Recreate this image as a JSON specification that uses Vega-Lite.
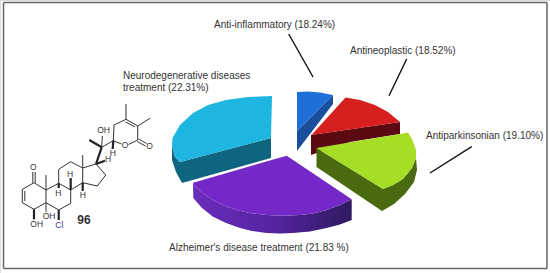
{"$schema":"https://vega.github.io/schema/vega-lite/v6.json","width":550,"height":273,"padding":0,"autosize":"none","background":"white",
"datasets":{
"faces":[
{"part":"blueSide","x":333,"y":95},{"part":"blueSide","x":297,"y":131},{"part":"blueSide","x":297,"y":151},{"part":"blueSide","x":333,"y":104},
{"part":"blueTop","x":297,"y":92},{"part":"blueTop","x":308,"y":91.5},{"part":"blueTop","x":320,"y":92.5},{"part":"blueTop","x":333,"y":95},{"part":"blueTop","x":297,"y":131},
{"part":"redSide","x":311,"y":135},{"part":"redSide","x":400,"y":122},{"part":"redSide","x":400,"y":134},{"part":"redSide","x":350,"y":142},{"part":"redSide","x":311,"y":155},
{"part":"redTop","x":311.5,"y":135},{"part":"redTop","x":345.5,"y":97.5},{"part":"redTop","x":360,"y":100},{"part":"redTop","x":375,"y":105},{"part":"redTop","x":388,"y":112},{"part":"redTop","x":400,"y":122},
{"part":"greenSide","x":316.5,"y":148},{"part":"greenSide","x":383,"y":189},{"part":"greenSide","x":393,"y":185},{"part":"greenSide","x":403,"y":179},{"part":"greenSide","x":412,"y":168},{"part":"greenSide","x":416,"y":158},{"part":"greenSide","x":417,"y":170},{"part":"greenSide","x":414,"y":182},{"part":"greenSide","x":405,"y":194},{"part":"greenSide","x":394,"y":204},{"part":"greenSide","x":382,"y":211},{"part":"greenSide","x":316.5,"y":167},
{"part":"greenTop","x":316.5,"y":148},{"part":"greenTop","x":400,"y":134},{"part":"greenTop","x":408,"y":132.5},{"part":"greenTop","x":412,"y":139},{"part":"greenTop","x":416,"y":150},{"part":"greenTop","x":416,"y":158},{"part":"greenTop","x":412,"y":168},{"part":"greenTop","x":403,"y":179},{"part":"greenTop","x":393,"y":185},{"part":"greenTop","x":383,"y":189},
{"part":"cyanSide","x":180,"y":162},{"part":"cyanSide","x":271,"y":138},{"part":"cyanSide","x":271,"y":158},{"part":"cyanSide","x":182,"y":183},{"part":"cyanSide","x":176,"y":172},{"part":"cyanSide","x":172,"y":160},{"part":"cyanSide","x":172,"y":146},{"part":"cyanSide","x":175,"y":157},
{"part":"cyanTop","x":272,"y":96},{"part":"cyanTop","x":271,"y":138},{"part":"cyanTop","x":180,"y":162},{"part":"cyanTop","x":175,"y":157},{"part":"cyanTop","x":172,"y":146},{"part":"cyanTop","x":172.5,"y":138},{"part":"cyanTop","x":180,"y":125},{"part":"cyanTop","x":193,"y":113},{"part":"cyanTop","x":208,"y":105},{"part":"cyanTop","x":226,"y":100},{"part":"cyanTop","x":248,"y":97}
],
"alzSide":[{"x":193,"y":182.7},{"x":195,"y":186},{"x":203,"y":193.5},{"x":213,"y":200},{"x":224,"y":205.5},{"x":236.7,"y":210},{"x":250,"y":213},{"x":266.7,"y":215},{"x":283,"y":215.8},{"x":300,"y":215},{"x":313,"y":213.5},{"x":326.7,"y":210},{"x":340,"y":205},{"x":351.7,"y":199.3},{"x":351.7,"y":220},{"x":340,"y":224.5},{"x":326.7,"y":228},{"x":310,"y":231.5},{"x":293,"y":233},{"x":280,"y":233.5},{"x":266.7,"y":233},{"x":252,"y":231},{"x":240,"y":228},{"x":226,"y":223},{"x":213,"y":216.7},{"x":202,"y":208},{"x":193.3,"y":198}],
"alzTop":[{"x":286.7,"y":155.7},{"x":351.7,"y":199.3},{"x":340,"y":205},{"x":326.7,"y":210},{"x":313,"y":213.5},{"x":300,"y":215},{"x":283,"y":215.8},{"x":266.7,"y":215},{"x":250,"y":213},{"x":236.7,"y":210},{"x":224,"y":205.5},{"x":213,"y":200},{"x":203,"y":193.5},{"x":195,"y":186},{"x":193,"y":182.7}],
"frame":[{"x":3.5,"y":2.5,"x2":547,"y2":2.5},{"x":547,"y":2.5,"x2":547,"y2":268.5},{"x":547,"y":268.5,"x2":3.5,"y2":268.5},{"x":3.5,"y":268.5,"x2":3.5,"y2":2.5}],
"leaders":[{"x":288.7,"y":34,"x2":313,"y2":77},{"x":406.7,"y":59,"x2":389,"y2":95.7},{"x":471.7,"y":146.7,"x2":430,"y2":173}],
"bonds":[
{"x":34,"y":182.7,"x2":22.3,"y2":189.3},{"x":22.3,"y":189.3,"x2":22.3,"y2":202.7},{"x":24.8,"y":191,"x2":24.8,"y2":201},{"x":22.3,"y":202.7,"x2":34,"y2":209.3},{"x":34,"y":209.3,"x2":46,"y2":202.7},{"x":46,"y":202.7,"x2":46,"y2":190},{"x":46,"y":190,"x2":34,"y2":182.7},
{"x":32.8,"y":182.7,"x2":32.8,"y2":172},{"x":35.2,"y":182.7,"x2":35.2,"y2":172},{"x":46,"y":190,"x2":46,"y2":175},
{"x":46,"y":190,"x2":58.7,"y2":183.3},{"x":58.7,"y":183.3,"x2":70.7,"y2":190},{"x":70.7,"y":190,"x2":70.7,"y2":203.3},{"x":70.7,"y":203.3,"x2":58.7,"y2":210},{"x":58.7,"y":210,"x2":46,"y2":202.7},
{"x":58.7,"y":183.3,"x2":58.7,"y2":169.3},{"x":58.7,"y":169.3,"x2":70.7,"y2":161.7},{"x":70.7,"y":161.7,"x2":82.7,"y2":168},{"x":82.7,"y":168,"x2":82.7,"y2":182.7},{"x":82.7,"y":182.7,"x2":70.7,"y2":190},
{"x":82.7,"y":168,"x2":96,"y2":164},{"x":96,"y":164,"x2":105.7,"y2":175},{"x":105.7,"y":175,"x2":97.3,"y2":186},{"x":97.3,"y":186,"x2":82.7,"y2":182.7},{"x":82.7,"y":168,"x2":82.7,"y2":155},
{"x":46,"y":202.7,"x2":46,"y2":212},{"x":101.7,"y":147.3,"x2":113.3,"y2":140.7},{"x":101.7,"y":147.3,"x2":102.3,"y2":136},
{"x":113.3,"y":140.7,"x2":121.5,"y2":144},{"x":128.5,"y":144.5,"x2":137.7,"y2":140},{"x":137.7,"y":140,"x2":137.7,"y2":126},{"x":137.7,"y":126,"x2":126,"y2":119.3},{"x":135,"y":127,"x2":125.5,"y2":122},{"x":126,"y":119.3,"x2":114,"y2":125},{"x":114,"y":125,"x2":113.3,"y2":140.7},
{"x":126,"y":119.3,"x2":126,"y2":104},{"x":137.7,"y":126,"x2":150,"y2":118.3},{"x":137.2,"y":141.5,"x2":145.5,"y2":146},{"x":138.5,"y":139,"x2":146.5,"y2":143.5}
],
"wedges":[
{"x":34,"y":209.3,"x2":34,"y2":219.3},{"x":58.7,"y":210,"x2":58.7,"y2":220},{"x":58.7,"y":183.3,"x2":58.7,"y2":188},{"x":70.7,"y":190,"x2":70.7,"y2":178},{"x":82.7,"y":182.7,"x2":82.7,"y2":191},
{"x":96,"y":164,"x2":105,"y2":160.7},{"x":96,"y":164,"x2":101.7,"y2":147.3},{"x":101.7,"y":147.3,"x2":89.3,"y2":140},{"x":113.3,"y":140.7,"x2":112.7,"y2":149}
],
"labels":[
{"x":214,"y":24.5,"t":"Anti-inflammatory (18.24%)"},
{"x":350,"y":50.5,"t":"Antineoplastic (18.52%)"},
{"x":426,"y":135.5,"t":"Antiparkinsonian (19.10%)"},
{"x":123,"y":76,"t":"Neurodegenerative diseases"},
{"x":123,"y":88,"t":"treatment (22.31%)"},
{"x":169,"y":248,"t":"Alzheimer's disease treatment (21.83 %)"}
],
"atoms":[
{"x":33.3,"y":167,"t":"O"},{"x":36.7,"y":224,"t":"OH"},{"x":49,"y":216,"t":"OH"},{"x":58.3,"y":192.5,"t":"H"},{"x":70,"y":174,"t":"H"},{"x":82.7,"y":195,"t":"H"},{"x":108,"y":159,"t":"H"},{"x":103.5,"y":130,"t":"OH"},{"x":112.7,"y":153,"t":"H"},{"x":125,"y":145,"t":"O"},{"x":149.5,"y":146,"t":"O"}
],
"chlorine":[{"x":59.3,"y":224.5,"t":"Cl"}],
"num":[{"x":84,"y":219.5,"t":"96"}]
},
"encoding":{
"x":{"field":"x","type":"quantitative","axis":null,"scale":{"domain":[0,550],"nice":false,"zero":false}},
"y":{"field":"y","type":"quantitative","axis":null,"scale":{"domain":[273,0],"nice":false,"zero":false}}
},
"layer":[
{"data":{"name":"frame"},"mark":{"type":"rule","stroke":"#666666","strokeWidth":1.5},"encoding":{"x2":{"field":"x2"},"y2":{"field":"y2"}}},
{"data":{"name":"faces"},"mark":{"type":"line","filled":true,"order":false,"strokeWidth":0},"encoding":{"detail":{"field":"part"},"fill":{"field":"part","type":"nominal","legend":null,"scale":{"domain":["blueSide","blueTop","redSide","redTop","greenSide","greenTop","cyanSide","cyanTop"],"range":["#1a4f9e","#1f6fd8","#5a0a10","#d81f1f","#4a6a10","#a6dd25","#0f6480","#1eb6e0"]}}}},
{"data":{"name":"alzSide"},"mark":{"type":"line","order":false,"strokeWidth":0,"fill":{"x1":0,"y1":0,"x2":1,"y2":0,"gradient":"linear","stops":[{"offset":0,"color":"#6a2cbc"},{"offset":0.5,"color":"#5524a0"},{"offset":1,"color":"#2f1a60"}]}}},
{"data":{"name":"alzTop"},"mark":{"type":"line","order":false,"strokeWidth":0,"fill":"#7528c8"}},
{"data":{"name":"leaders"},"mark":{"type":"rule","stroke":"#111111","strokeWidth":1.4},"encoding":{"x2":{"field":"x2"},"y2":{"field":"y2"}}},
{"data":{"name":"bonds"},"mark":{"type":"rule","stroke":"#333333","strokeWidth":1},"encoding":{"x2":{"field":"x2"},"y2":{"field":"y2"}}},
{"data":{"name":"wedges"},"mark":{"type":"rule","stroke":"#222222","strokeWidth":2.2},"encoding":{"x2":{"field":"x2"},"y2":{"field":"y2"}}},
{"data":{"name":"labels"},"mark":{"type":"text","align":"left","baseline":"middle","font":"Liberation Sans","fontSize":10,"fill":"#333333"},"encoding":{"text":{"field":"t"}}},
{"data":{"name":"atoms"},"mark":{"type":"text","align":"center","baseline":"middle","font":"Liberation Sans","fontSize":8.5,"fill":"#333333"},"encoding":{"text":{"field":"t"}}},
{"data":{"name":"chlorine"},"mark":{"type":"text","align":"center","baseline":"middle","font":"Liberation Sans","fontSize":8.5,"fill":"#3a3a90"},"encoding":{"text":{"field":"t"}}},
{"data":{"name":"num"},"mark":{"type":"text","align":"center","baseline":"middle","font":"Liberation Sans","fontSize":12,"fontWeight":"bold","fill":"#333333"},"encoding":{"text":{"field":"t"}}}
]}
